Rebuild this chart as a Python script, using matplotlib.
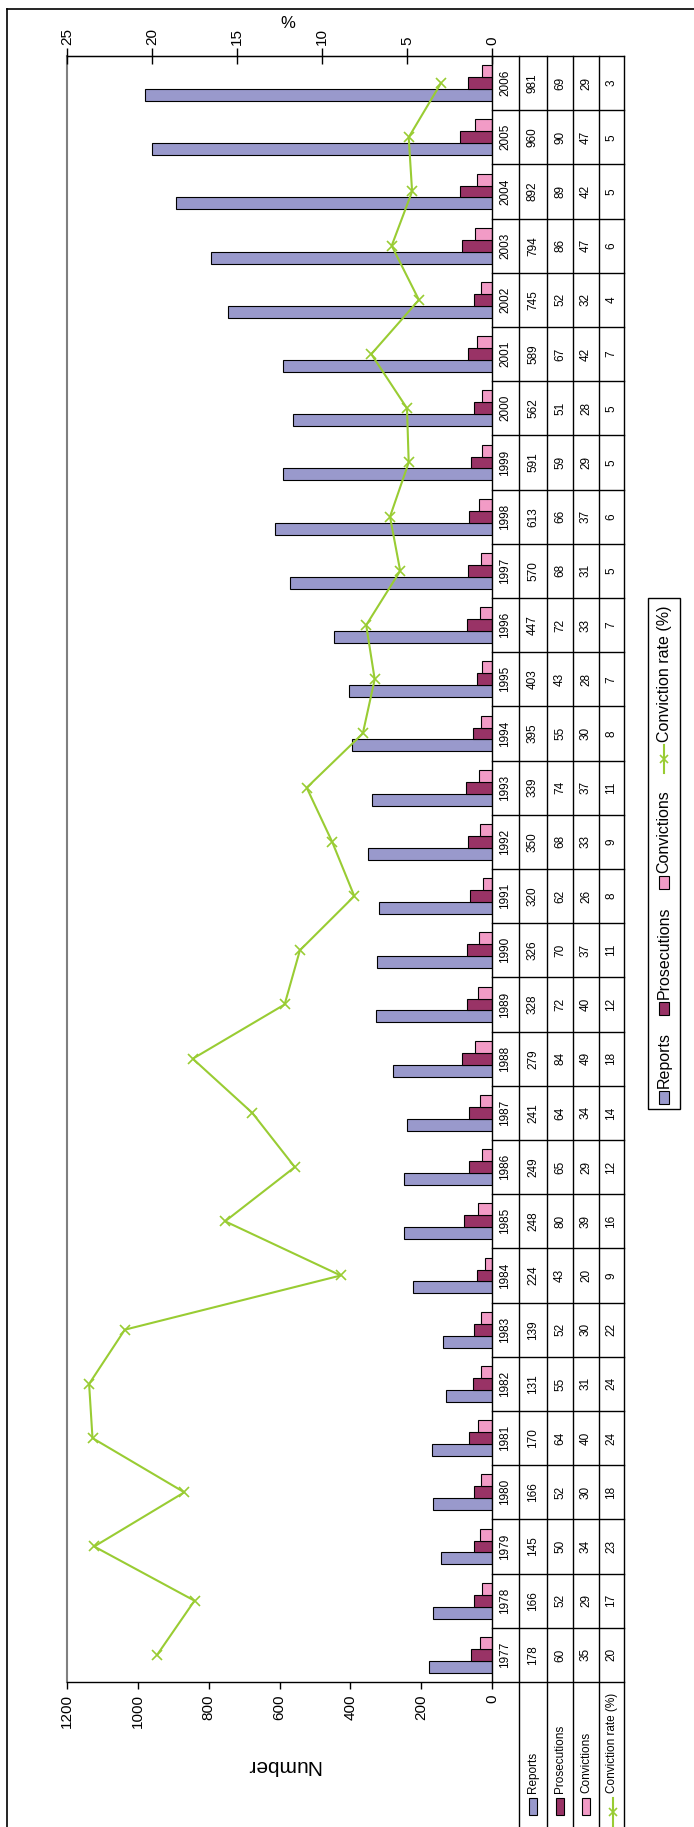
import numpy as np
import matplotlib
matplotlib.use("Agg")
from matplotlib import pyplot as plt
from matplotlib.lines import Line2D
from matplotlib.patches import Rectangle
from matplotlib.transforms import blended_transform_factory

plt.rcParams['font.family'] = ['Liberation Sans', 'DejaVu Sans']

years = list(range(1977, 2007))
reports = [178, 166, 145, 166, 170, 131, 139, 224, 248, 249, 241, 279, 328, 326, 320,
           350, 339, 395, 403, 447, 570, 613, 591, 562, 589, 745, 794, 892, 960, 981]
prosecutions = [60, 52, 50, 52, 64, 55, 52, 43, 80, 65, 64, 84, 72, 70, 62,
                68, 74, 55, 43, 72, 68, 66, 59, 51, 67, 52, 86, 89, 90, 69]
convictions = [35, 29, 34, 30, 40, 31, 30, 20, 39, 29, 34, 49, 40, 37, 26,
               33, 37, 30, 28, 33, 31, 37, 29, 28, 42, 32, 47, 42, 47, 29]
# plotted conviction rate (%) and the rounded values shown in the table
rate = [19.7, 17.5, 23.4, 18.1, 23.5, 23.7, 21.6, 8.9, 15.7, 11.6, 14.1, 17.6, 12.2, 11.3, 8.1,
        9.4, 10.9, 7.6, 6.9, 7.4, 5.4, 6.0, 4.9, 5.0, 7.1, 4.3, 5.9, 4.7, 4.9, 3.0]
rate_table = [20, 17, 23, 18, 24, 24, 22, 9, 16, 12, 14, 18, 12, 11, 8,
              9, 11, 8, 7, 7, 5, 6, 5, 5, 7, 4, 6, 5, 5, 3]
series_names = ["Reports", "Prosecutions", "Convictions", "Conviction rate (%)"]

c_rep = "#9999CC"
c_pro = "#993366"
c_con = "#F29BC6"
c_line = "#99CC33"

W, H = 694, 1827
fig = plt.figure(figsize=(W / 100, H / 100), dpi=100)


def fx(px):
    return px / W


def fy(py):
    return 1 - py / H


# plot area (chart is drawn turned on its side)
left, right, top, bottom = 67, 492, 56, 1682
ax = fig.add_axes([fx(left), fy(bottom), fx(right - left), (bottom - top) / H])

y = np.arange(len(years))
bw = 0.22
ax.barh(y - bw, reports, height=bw, color=c_rep, edgecolor="black", linewidth=0.8)
ax.barh(y, prosecutions, height=bw, color=c_pro, edgecolor="black", linewidth=0.8)
ax.barh(y + bw, convictions, height=bw, color=c_con, edgecolor="black", linewidth=0.8)

ax.set_xlim(1200, 0)
ax.set_ylim(-0.5, len(years) - 0.5)
ax.set_yticks([])
ax.set_xticks(range(0, 1201, 200))
ax.set_xticklabels([str(v) for v in range(0, 1201, 200)], rotation=90, fontsize=11)
ax.tick_params(axis="x", direction="out", length=5, width=1, pad=4)
ax.spines["left"].set_color("#808080")
ax.spines["left"].set_linewidth(1.5)
for s in ["right", "bottom", "top"]:
    ax.spines[s].set_color("black")
    ax.spines[s].set_linewidth(1)

ax2 = ax.twiny()
ax2.plot(rate, y, color=c_line, lw=1.5, marker="x", ms=7, mew=1.2)
ax2.set_xlim(25, 0)
ax2.set_xticks(range(0, 26, 5))
ax2.set_xticklabels([str(v) for v in range(0, 26, 5)], rotation=90, fontsize=11)
ax2.tick_params(axis="x", direction="inout", length=12, width=1, pad=2)
for s in ["left", "right", "bottom"]:
    ax2.spines[s].set_visible(False)

fig.text(fx(283), fy(1765), "Number", rotation=180, ha="center", va="center", fontsize=15)
fig.text(fx(288), fy(23), "%", ha="center", va="center", fontsize=12)

# outer frame
fig.add_artist(Line2D([fx(7), fx(7)], [fy(9), fy(H + 5)], transform=fig.transFigure,
                      color="black", lw=1.2))
fig.add_artist(Line2D([fx(7), fx(W + 5)], [fy(9), fy(9)], transform=fig.transFigure,
                      color="black", lw=1.2))

# data table
cols = [492, 519, 547, 573, 599, 624]
for cx in cols[1:]:
    fig.add_artist(Line2D([fx(cx), fx(cx)], [fy(top), fy(H + 5)], transform=fig.transFigure,
                          color="black", lw=1))
trans = blended_transform_factory(fig.transFigure, ax.transData)
for k in range(len(years) + 1):
    fig.add_artist(Line2D([fx(cols[0]), fx(cols[-1])], [k - 0.5, k - 0.5], transform=trans,
                          color="black", lw=1))
table_rows = [years, reports, prosecutions, convictions, rate_table]
for c, row in enumerate(table_rows):
    cx = (cols[c] + cols[c + 1]) / 2
    for i, v in enumerate(row):
        fig.text(fx(cx), i, str(v), transform=trans, rotation=90, ha="center",
                 va="center", fontsize=8.5)

# row headers with keys
key_colors = [c_rep, c_pro, c_con]
for c, name in enumerate(series_names):
    cx = (cols[c + 1] + cols[c + 2]) / 2
    fig.text(fx(cx), fy(1793), name, rotation=90, rotation_mode="anchor", ha="left",
             va="center", fontsize=8.5)
    if c < 3:
        fig.add_artist(Rectangle((fx(cx - 4), fy(1815)), 8 / W, 17 / H, transform=fig.transFigure,
                                 facecolor=key_colors[c], edgecolor="black", lw=0.8))
    else:
        fig.add_artist(Line2D([fx(cx + 1), fx(cx + 1)], [fy(1798), fy(H + 2)],
                              transform=fig.transFigure, color=c_line, lw=1.5))
        fig.add_artist(Line2D([fx(cx + 1)], [fy(1812)], transform=fig.transFigure,
                              color=c_line, marker="x", ms=6, mew=1.2, lw=0))

# legend box
lx0, lx1, ly0, ly1 = 648, 680, 598, 1109
fig.add_artist(Rectangle((fx(lx0), fy(ly1)), (lx1 - lx0) / W, (ly1 - ly0) / H,
                         transform=fig.transFigure, facecolor="white", edgecolor="black", lw=1))
lcx = 664
fig.text(fx(lcx), fy(742), series_names[3], rotation=90, rotation_mode="anchor", ha="left",
         va="center", fontsize=11.5)
fig.add_artist(Line2D([fx(lcx), fx(lcx)], [fy(745), fy(773)], transform=fig.transFigure,
                      color=c_line, lw=1.5))
fig.add_artist(Line2D([fx(lcx)], [fy(759)], transform=fig.transFigure, color=c_line,
                      marker="x", ms=6, mew=1.2, lw=0))
legend_pos = [(1088, 1091), (999, 1002), (873, 876)]
for c in range(3):
    ty, ky = legend_pos[c]
    fig.text(fx(lcx), fy(ty), series_names[c], rotation=90, rotation_mode="anchor", ha="left",
             va="center", fontsize=11.5)
    fig.add_artist(Rectangle((fx(lcx - 5), fy(ky + 13)), 10 / W, 13 / H, transform=fig.transFigure,
                             facecolor=key_colors[c], edgecolor="black", lw=0.8))

fig.savefig("out.png", dpi=100)
